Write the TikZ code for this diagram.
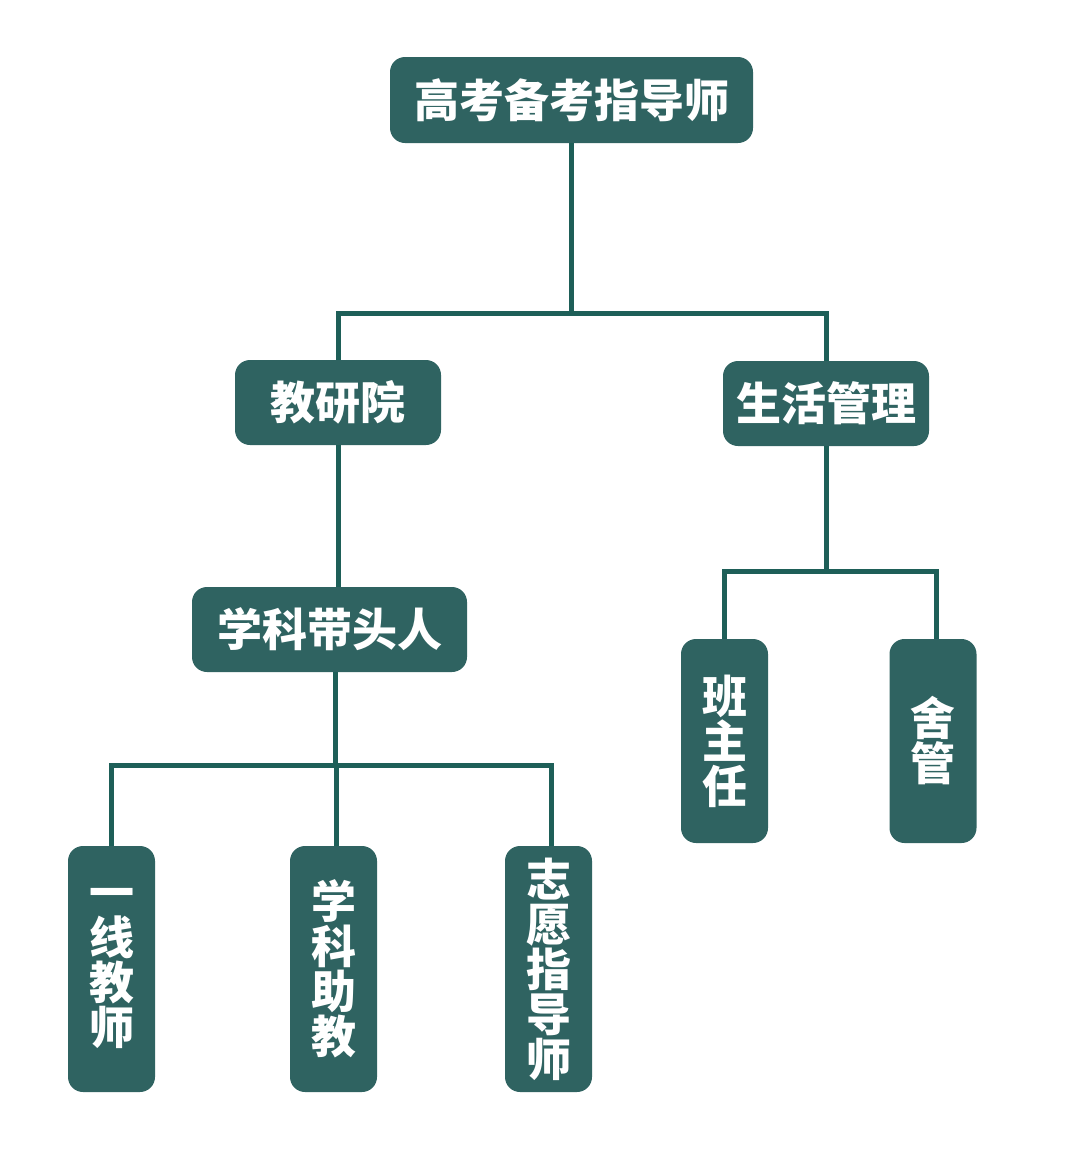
\documentclass[tikz,border=0pt]{standalone}
\usepackage{fontspec}
\newfontfamily\cjk{Noto Sans CJK SC}
\usepackage{tikz}
\usetikzlibrary{positioning, calc}
\usepackage{xcolor}

\definecolor{boxteal}{RGB}{47,99,97}
\definecolor{linkteal}{RGB}{30,95,88}

\tikzset{
  box/.style={fill=boxteal, rounded corners=15pt, text=white, inner sep=0pt,
    font=\cjk\bfseries\fontsize{45}{45}\selectfont},
  vbox/.style={box, align=center, minimum width=87pt},
  link/.style={draw=linkteal, line width=5pt}
}

\begin{document}
\begin{tikzpicture}[x=1pt, y=-1pt]
  \useasboundingbox (0,0) rectangle (1080,1171);
  % top level
  \node[box, minimum width=363pt, minimum height=86pt] (gkzd) at (571.5,100) {高考备考指导师};
  % second level
  \node[box, minimum width=206pt, minimum height=85pt] (jyy) at (338,402.5) {教研院};
  \node[box, minimum width=206pt, minimum height=85pt] (shgl) at (826,403.5) {生活管理};
  % third level
  \node[box, minimum width=275pt, minimum height=85pt] (xkdt) at (329.5,629.5) {学科带头人};
  % leaves
  \node[vbox, minimum height=246pt] (yxjs) at (111.5,969) {一\\线\\教\\师};
  \node[vbox, minimum height=246pt] (xkzj) at (333.5,969) {学\\科\\助\\教};
  \node[vbox, minimum height=246pt] (zyzd) at (548.5,969) {志\\愿\\指\\导\\师};
  \node[vbox, minimum height=204pt] (bzr) at (724.5,741) {班\\主\\任};
  \node[vbox, minimum height=204pt] (sg) at (933,741) {舍\\管};

  % connectors
  \draw[link] (gkzd.south) -- ++(0,170) -| (jyy.north);
  \draw[link] (gkzd.south) -- ++(0,170) -| (shgl.north);
  \draw[link] (jyy.south) -- (jyy.south |- xkdt.north);
  \draw[link] ($(xkdt.south)+(6,0)$) -- ++(0,93) -| (yxjs.north);
  \draw[link] ($(xkdt.south)+(6,0)$) -- ++(0,93) -| ($(xkzj.north)+(2.5,0)$);
  \draw[link] ($(xkdt.south)+(6,0)$) -- ++(0,93) -| ($(zyzd.north)+(2.5,0)$);
  \draw[link] (shgl.south) -- ++(0,125) -| (bzr.north);
  \draw[link] (shgl.south) -- ++(0,125) -| ($(sg.north)+(3,0)$);
\end{tikzpicture}
\end{document}
